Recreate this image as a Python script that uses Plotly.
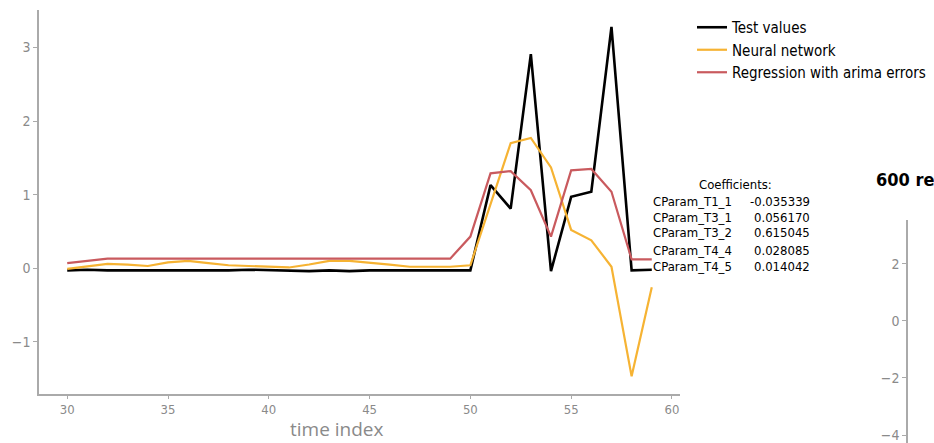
import plotly.graph_objects as go

# Forecast window (time index) and the three series compared on it
time_index = list(range(30, 60))

test_values = [-0.03, -0.02, -0.03, -0.03, -0.04, -0.04, -0.04, -0.03, -0.03, -0.02,
               -0.03, -0.03, -0.04, -0.03, -0.04, -0.03, -0.03, -0.03, -0.02, -0.03,
               -0.03, 1.13, 0.81, 2.91, -0.04, 0.97, 1.04, 3.28, -0.03, -0.02]

neural_network = [-0.01, 0.02, 0.06, 0.05, 0.03, 0.08, 0.10, 0.07, 0.04, 0.03,
                  0.02, 0.01, 0.05, 0.10, 0.10, 0.08, 0.05, 0.02, 0.02, 0.02,
                  0.04, 0.87, 1.70, 1.77, 1.37, 0.52, 0.38, 0.02, -1.47, -0.26]

regression_arima = [0.07, 0.10, 0.13, 0.13, 0.13, 0.13, 0.13, 0.13, 0.13, 0.13,
                    0.13, 0.13, 0.13, 0.13, 0.13, 0.13, 0.13, 0.13, 0.13, 0.13,
                    0.43, 1.29, 1.32, 1.06, 0.43, 1.33, 1.35, 1.04, 0.12, 0.12]

coef_names = ["CParam_T1_1", "CParam_T3_1", "CParam_T3_2", "CParam_T4_4", "CParam_T4_5"]
coef_values = ["-0.035339", "0.056170", "0.615045", "0.028085", "0.014042"]

x_ticks = [30, 35, 40, 45, 50, 55, 60]
y_ticks = [-1, 0, 1, 2, 3]
y2_ticks = [-4, -2, 0, 2]

W, H = 934, 443
BASE_FONT = "DejaVu Sans Condensed, Liberation Sans Narrow, DejaVu Sans, sans-serif"
AXIS_GREY = "#aaaaaa"
TICK_GREY = "#8a8a8a"

fig = go.Figure()

fig.add_trace(go.Scatter(x=time_index, y=test_values, mode="lines", name="Test values",
                         line=dict(color="#000000", width=2.6)))
fig.add_trace(go.Scatter(x=time_index, y=neural_network, mode="lines", name="Neural network",
                         line=dict(color="#f6b333", width=2.2)))
fig.add_trace(go.Scatter(x=time_index, y=regression_arima, mode="lines",
                         name="Regression with arima errors",
                         line=dict(color="#c95a5e", width=2.2)))

axis_common = dict(showgrid=False, zeroline=False, showline=True, linecolor=AXIS_GREY,
                   linewidth=1.5, ticks="outside", ticklen=4, tickcolor=AXIS_GREY,
                   tickfont=dict(family=BASE_FONT, size=14, color=TICK_GREY))

fig.update_layout(
    width=W, height=H,
    margin=dict(l=0, r=0, t=0, b=0),
    paper_bgcolor="white", plot_bgcolor="white",
    font=dict(family=BASE_FONT),
    xaxis=dict(domain=[39 / W, 680 / W], range=[28.6, 60.4], tickvals=x_ticks,
               anchor="y", **axis_common),
    yaxis=dict(domain=[(H - 394) / H, (H - 10) / H], range=[-1.71, 3.51],
               tickvals=y_ticks, anchor="x", **axis_common),
    # second panel, only its left edge is in view
    xaxis2=dict(domain=[908 / W, 1.0], range=[0, 10], visible=False, anchor="y2"),
    yaxis2=dict(domain=[0.0, (H - 220) / H], range=[-4.28, 3.54], tickvals=y2_ticks,
                anchor="x2", **axis_common),
    legend=dict(x=692 / W, y=(H - 11) / H, xanchor="left", yanchor="top",
                bgcolor="rgba(0,0,0,0)",
                font=dict(family=BASE_FONT, size=15, color="#000000")),
    showlegend=True,
)
fig.update_layout(xaxis=dict(ticklen=3, tickfont=dict(size=13)))

# invisible trace so the second panel's axes are drawn
fig.add_trace(go.Scatter(x=[None], y=[None], xaxis="x2", yaxis="y2", showlegend=False))

annotations = [
    dict(text="time index", x=337 / W, y=0, xref="paper", yref="paper",
         xanchor="center", yanchor="bottom", showarrow=False, borderpad=0,
         font=dict(family="Open Sans, Noto Sans, sans-serif", size=19, color=TICK_GREY)),
    dict(text="Coefficients:", x=735 / W, y=(H - 184) / H, xref="paper", yref="paper",
         xanchor="center", yanchor="middle", showarrow=False,
         font=dict(family=BASE_FONT, size=13, color="#000000")),
    dict(text="<b>600 re</b>", x=874 / W, y=(H - 180) / H, xref="paper", yref="paper",
         xanchor="left", yanchor="middle", showarrow=False,
         font=dict(family=BASE_FONT, size=18, color="#000000")),
]
row_y = [201, 217, 233, 250, 266]
for name, val, py in zip(coef_names, coef_values, row_y):
    annotations.append(dict(text=name, x=651 / W, y=(H - py) / H, xref="paper", yref="paper",
                            xanchor="left", yanchor="middle", showarrow=False,
                            font=dict(family=BASE_FONT, size=13, color="#000000")))
    annotations.append(dict(text=val, x=812 / W, y=(H - py) / H, xref="paper", yref="paper",
                            xanchor="right", yanchor="middle", showarrow=False,
                            font=dict(family=BASE_FONT, size=13, color="#000000")))
fig.update_layout(annotations=annotations)

fig.write_html("out.html")
